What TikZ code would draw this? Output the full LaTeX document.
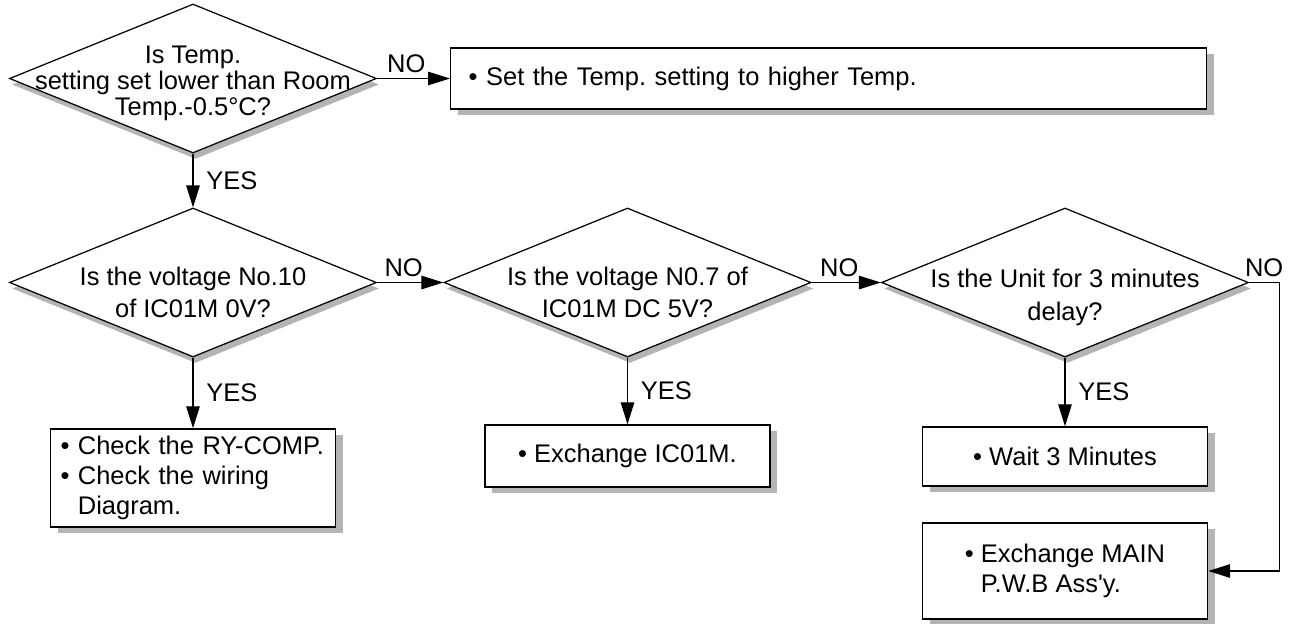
\documentclass[tikz,border=0pt]{standalone}
\usepackage{fontspec}
\setmainfont{Liberation Sans}
\frenchspacing
\usetikzlibrary{arrows.meta,positioning,shapes.geometric,shadows}
\definecolor{shgray}{RGB}{180,180,180}
\tikzset{
  ask/.style  ={diamond, draw, line width=0.7pt, fill=white, inner sep=0pt,
                minimum width=7.34cm, minimum height=2.98cm,
                drop shadow={shadow xshift=0.05cm, shadow yshift=-0.12cm,
                             fill=shgray, opacity=1}},
  qtxt/.style ={align=center, inner sep=0pt, font=\fontsize{14.5}{18.5}\selectfont},
  box/.style  ={rectangle, draw, line width=0.8pt, fill=white, align=left,
                minimum width=5.7cm, inner ysep=3pt,
                font=\fontsize{14.5}{17}\selectfont,
                drop shadow={shadow xshift=0.14cm, shadow yshift=-0.12cm,
                             fill=shgray, opacity=1}},
  arr/.style  ={-{Triangle[length=4.4mm,width=2.7mm]}, line width=0.7pt},
  lbl/.style  ={font=\fontsize{14.5}{16}\selectfont, inner sep=1pt}
}

\begin{document}
\begin{tikzpicture}
\useasboundingbox (0,0) rectangle (25.96,-12.46);

% decisions
\node[ask] (q1) at (3.86,-1.57) {};
\node[qtxt, font=\fontsize{14.5}{14.8}\selectfont] (t1) at ([yshift=-1mm]q1.center)
  {Is Temp.\\setting set lower than Room\\Temp.-0.5°C?};
\node[ask] (q2) at (3.86,-5.65) {};
\node[qtxt] (t2) at ([yshift=-2mm]q2.center) {Is the voltage No.10\\of IC01M 0V?};
\node[ask] (q3) at (12.55,-5.65) {};
\node[qtxt] (t3) at ([yshift=-2mm]q3.center) {Is the voltage N0.7 of\\IC01M DC 5V?};
\node[ask] (q4) at (21.3,-5.65) {};
\node[qtxt] (t4) at ([yshift=-3mm]q4.center) {Is the Unit for 3 minutes\\delay?};

% actions
\node[box, anchor=west, minimum width=15.12cm, minimum height=1.22cm,
      text width=14.4cm, inner xsep=0.36cm] (b0) at (9.0,-1.57)
  {\textbullet\ Set the Temp. setting to higher Temp.};
\node[box, minimum height=1.96cm, text width=5.3cm, inner xsep=0.2cm] (b1) at (3.86,-9.56)
  {\textbullet\ Check the RY-COMP.\\
   \textbullet\ Check the wiring\\
   \phantom{\textbullet\ }Diagram.};
\node[box, minimum height=1.24cm] (b2) at (12.55,-9.12) {\textbullet\ Exchange IC01M.};
\node[box, minimum height=1.18cm] (b3) at (21.3,-9.13) {\textbullet\ Wait 3 Minutes};
\node[box, minimum height=1.92cm] (b4) at (21.3,-11.42)
  {\textbullet\ Exchange MAIN\\\phantom{\textbullet\ }P.W.B Ass\textquotesingle y.};

\draw[arr] (q1) -- node[lbl, above=0.6mm, pos=0.4] {NO} (b0);
\draw[arr] (q1) -- node[lbl, right=2.2mm] {YES} (q2);
\draw[arr] (q2) -- node[lbl, above=0.6mm, pos=0.4] {NO} (q3);
\draw[arr] (q3) -- node[lbl, above=0.6mm, pos=0.4] {NO} (q4);
\draw[arr] (q2) -- node[lbl, right=2.2mm] {YES} (b1);
\draw[arr] (q3) -- node[lbl, right=2.2mm] {YES} (b2);
\draw[arr] (q4) -- node[lbl, right=2.2mm] {YES} (b3);
\draw[arr] (q4.east) -- node[lbl, above=0.6mm] {NO} ++(0.6,0) |- (b4.east);
\end{tikzpicture}
\end{document}
